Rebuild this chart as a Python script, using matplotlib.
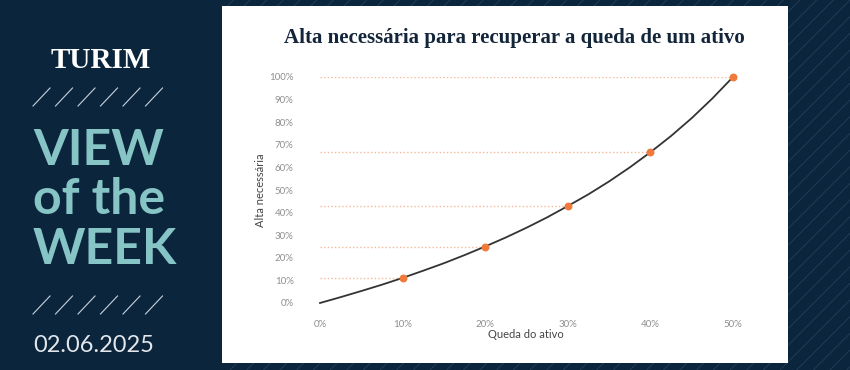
import numpy as np
import matplotlib
matplotlib.use("Agg")
import matplotlib.pyplot as plt
from matplotlib.patches import Rectangle
from matplotlib.lines import Line2D
from matplotlib.ticker import FuncFormatter

# data
queda = [0.10, 0.20, 0.30, 0.40, 0.50]
alta = [0.111, 0.25, 0.429, 0.667, 1.00]
curva_x = [0.0, 0.025, 0.05, 0.075, 0.10, 0.125, 0.15, 0.175, 0.20, 0.225, 0.25,
           0.275, 0.30, 0.325, 0.35, 0.375, 0.40, 0.425, 0.45, 0.475, 0.50]
curva_y = [0.0, 0.026, 0.053, 0.081, 0.111, 0.143, 0.176, 0.212, 0.25, 0.29, 0.333,
           0.379, 0.429, 0.481, 0.538, 0.60, 0.667, 0.739, 0.818, 0.905, 1.00]
xticks = [0, 0.1, 0.2, 0.3, 0.4, 0.5]
yticks = [i / 10 for i in range(11)]

navy = "#0b253d"
teal = "#86c4c5"
orange = "#f07a3c"
orange_light = "#f6b899"

W, H = 850, 370
plt.rcParams["hatch.linewidth"] = 0.6
fig = plt.figure(figsize=(8.5, 3.7), dpi=100, facecolor=navy)

# faint diagonal hatching on the background (right part)
bg = fig.add_axes([222 / W, 0, 1 - 222 / W, 1])
bg.set_axis_off()
bg.set_xlim(0, 1)
bg.set_ylim(0, 1)
bg.add_patch(Rectangle((0, 0), 1, 1, facecolor=navy, edgecolor="#26405b",
                       hatch="//", linewidth=0))

# white panel
fig.add_artist(Rectangle((222 / W, 1 - 363 / H), (788 - 222) / W, (363 - 6) / H,
                         transform=fig.transFigure, facecolor="white",
                         edgecolor="none", zorder=1))

# left column
fig.text(101 / W, 1 - 60 / H, "TURIM", color="white", fontsize=21,
         family="Liberation Serif", weight="bold", ha="center", va="center")
for yc in (97, 305):
    for i in range(6):
        x0 = 33 + i * 22.5
        fig.add_artist(Line2D([x0 / W, (x0 + 17) / W],
                              [1 - (yc + 9) / H, 1 - (yc - 9) / H],
                              transform=fig.transFigure, color="#c9d3db", lw=0.8))
for txt, yc in (("VIEW", 150), ("of the", 200), ("WEEK", 250)):
    fig.text(33 / W, 1 - yc / H, txt, color=teal, fontsize=36, family="Lato",
             weight="bold", ha="left", va="center")
fig.text(33 / W, 1 - 345 / H, "02.06.2025", color="#e3e6ea", fontsize=17,
         family="Lato", ha="left", va="center")

# chart
ax = fig.add_axes([320 / W, 1 - 303 / H, (733 - 320) / W, (303 - 77) / H], zorder=2)
ax.patch.set_alpha(0)
ax.hlines(alta, 0, queda, colors=orange_light, linestyles=(0, (1, 1.6)), lw=1.0)
ax.plot(curva_x, curva_y, color="#333333", lw=1.3, clip_on=False)
ax.scatter(queda, alta, s=22, color=orange, zorder=3, clip_on=False)
ax.set_xlim(0, 0.5)
ax.set_ylim(0, 1)
ax.set_xticks(xticks)
ax.set_yticks(yticks)
pct = FuncFormatter(lambda v, p: f"{v * 100:.0f}%")
ax.xaxis.set_major_formatter(pct)
ax.yaxis.set_major_formatter(pct)
ax.tick_params(length=0, labelsize=7, labelcolor="#8f8f8f")
ax.tick_params(axis="y", pad=19)
ax.tick_params(axis="x", pad=12)
for lab in ax.get_xticklabels() + ax.get_yticklabels():
    lab.set_family("Lato")
for s in ax.spines.values():
    s.set_visible(False)

fig.text(526 / W, 1 - 335 / H, "Queda do ativo", color="#444444", fontsize=8,
         family="Lato", ha="center", va="center")
fig.text(261 / W, 1 - 190 / H, "Alta necessária", color="#444444", fontsize=8,
         family="Lato", ha="center", va="center", rotation=90)
fig.text(514 / W, 1 - 38 / H, "Alta necessária para recuperar a queda de um ativo",
         color="#13253a", fontsize=15, family="Liberation Serif", weight="bold",
         ha="center", va="center")

fig.savefig("out.png", dpi=100, facecolor=navy)
